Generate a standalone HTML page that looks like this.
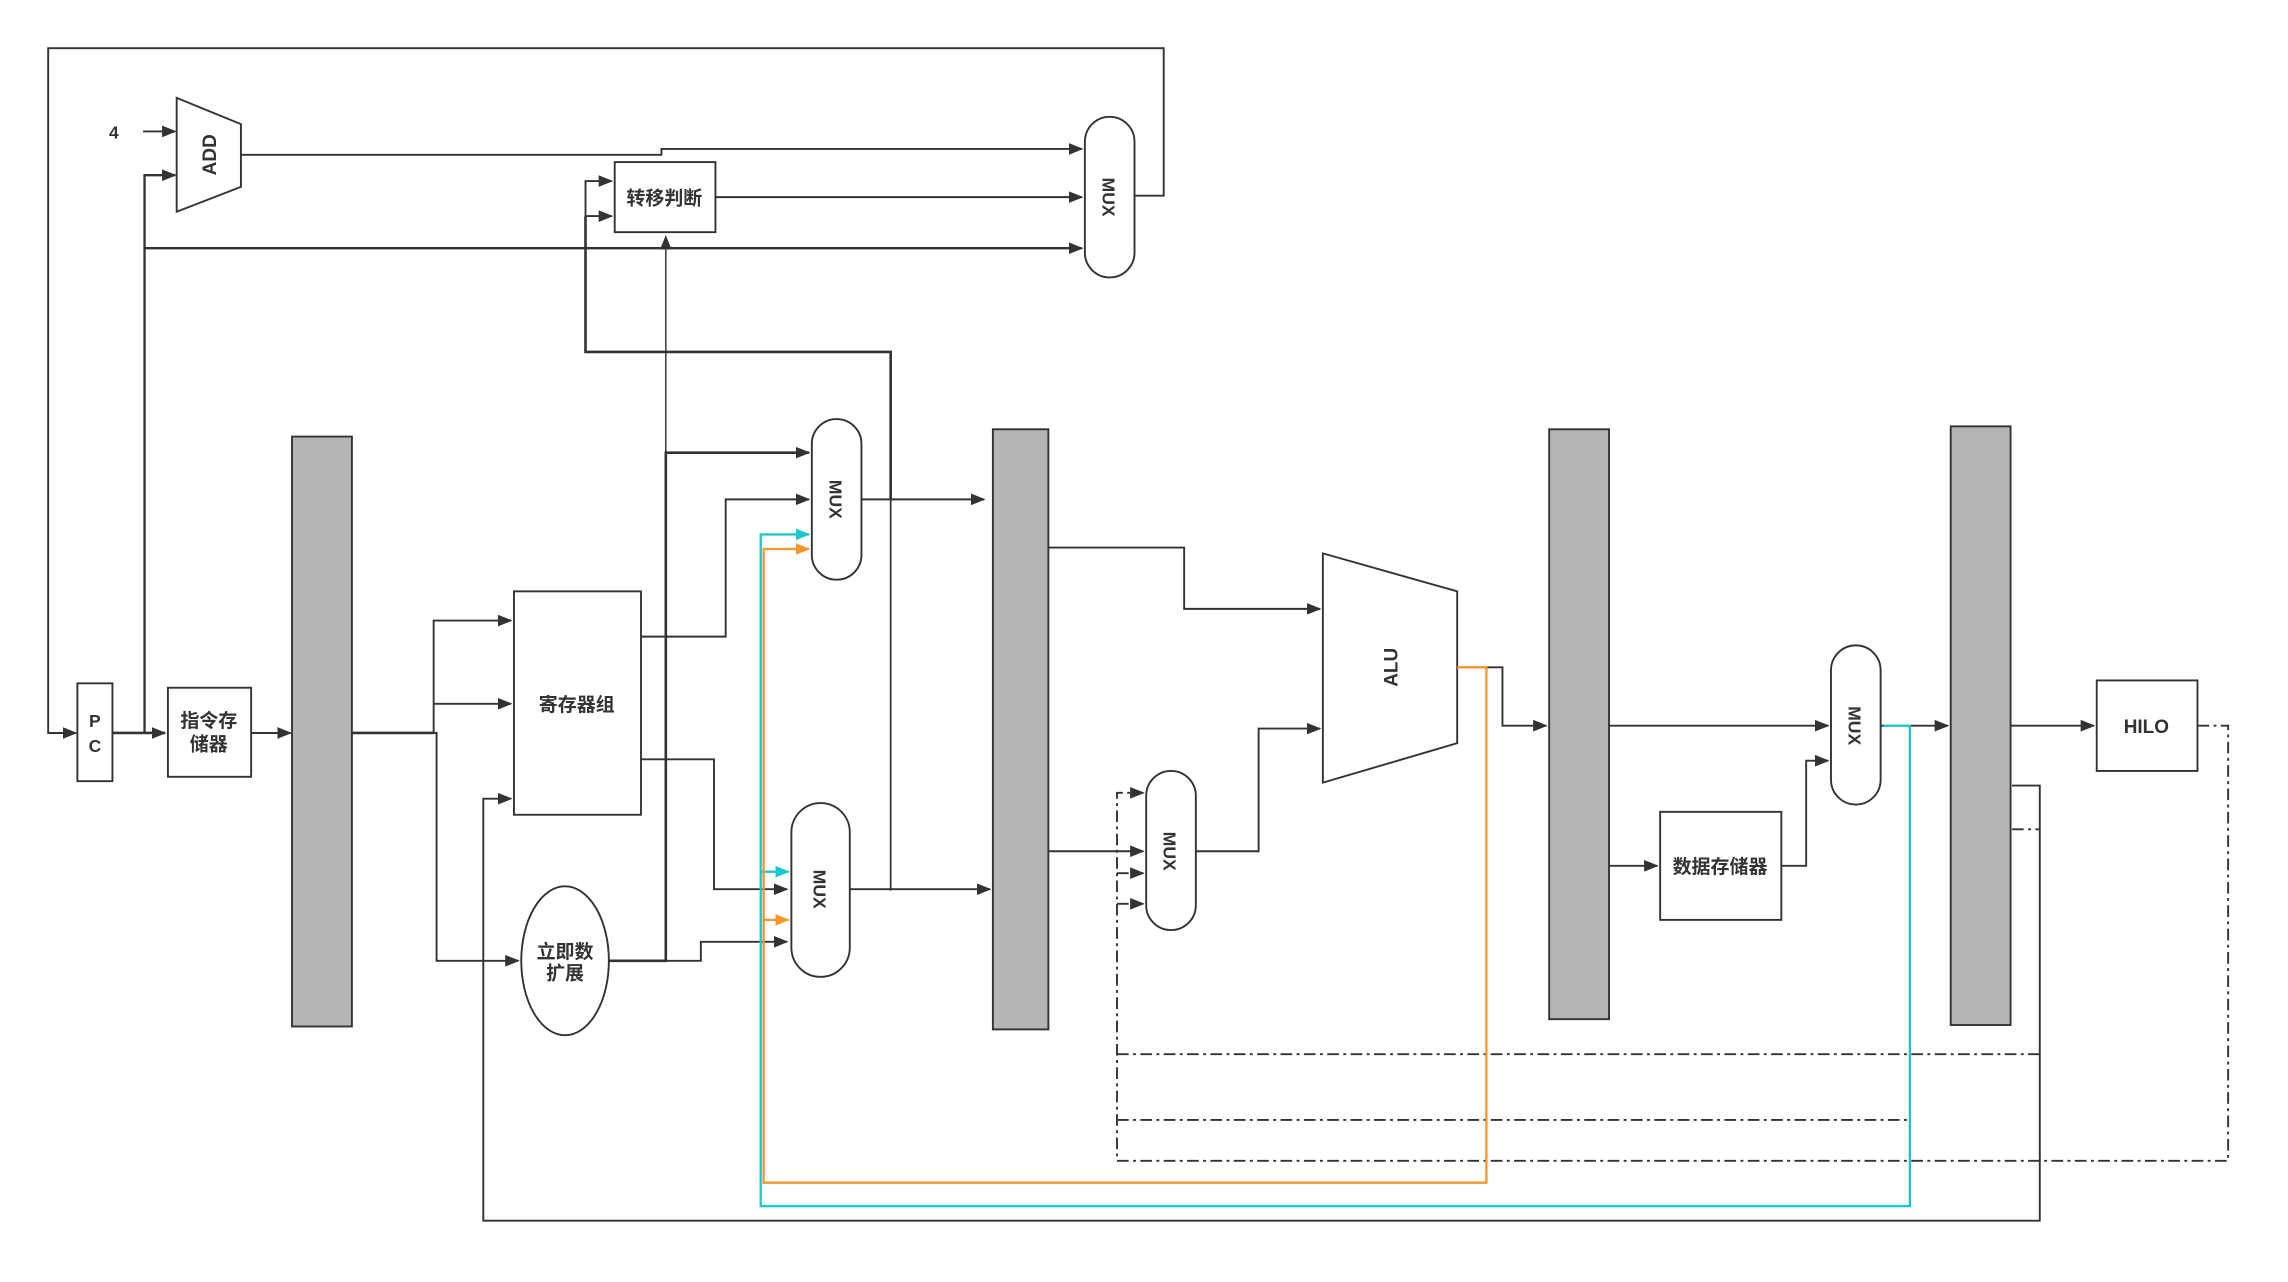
<!DOCTYPE html>
<html><head><meta charset="utf-8"><style>
html,body{margin:0;padding:0;background:#fff;}
svg{display:block;}
text{font-family:"Liberation Sans","Noto Sans CJK SC",sans-serif;font-weight:bold;fill:#333;}
</style></head><body>
<svg width="2288" height="1282" viewBox="0 0 1567 878" preserveAspectRatio="none" xmlns="http://www.w3.org/2000/svg">
<defs>
<marker id="a" markerWidth="10" markerHeight="8" refX="9" refY="4" orient="auto" markerUnits="userSpaceOnUse"><path d="M0,0 L10,4 L0,8 z" fill="#333"/></marker>
<marker id="c" markerWidth="10" markerHeight="8" refX="9" refY="4" orient="auto" markerUnits="userSpaceOnUse"><path d="M0,0 L10,4 L0,8 z" fill="#1cc8d0"/></marker>
<marker id="o" markerWidth="10" markerHeight="8" refX="9" refY="4" orient="auto" markerUnits="userSpaceOnUse"><path d="M0,0 L10,4 L0,8 z" fill="#f7962e"/></marker>
</defs>
<g fill="none" stroke="#333" stroke-width="1.3">
<polyline points="777,134 797,134 797,33 33,33 33,502 52,502" marker-end="url(#a)"/>
<line x1="98" y1="90" x2="120" y2="90" marker-end="url(#a)"/>
<polygon points="121,67 165,85 165,128 121,145" fill="#fff"/>
<polyline points="165,106 453,106 453,102 741,102" marker-end="url(#a)"/>
<rect x="743" y="80" width="34" height="110" rx="17" fill="#fff"/>
<rect x="421" y="111" width="69" height="48" fill="#fff"/>
<line x1="490" y1="135" x2="741" y2="135" marker-end="url(#a)"/>
<line x1="99" y1="170" x2="741" y2="170" stroke-width="1.6" marker-end="url(#a)"/>
<polyline points="99,502 99,120 120,120" stroke-width="1.6" marker-end="url(#a)"/>
<rect x="53" y="468" width="24" height="67" fill="#fff"/>
<line x1="77" y1="502" x2="113" y2="502" stroke-width="1.8" marker-end="url(#a)"/>
<rect x="115" y="471" width="57" height="61" fill="#fff"/>
<line x1="172" y1="502" x2="199" y2="502" marker-end="url(#a)"/>
<rect x="200" y="299" width="41" height="404" fill="#b5b5b5"/>
<polyline points="241,502 297,502" stroke-width="1.8"/>
<polyline points="297,502 297,425 350,425" marker-end="url(#a)"/>
<line x1="297" y1="482" x2="350" y2="482" marker-end="url(#a)"/>
<polyline points="297,502 299,502 299,658 355,658" marker-end="url(#a)"/>
<rect x="352" y="405" width="87" height="153" fill="#fff"/>
<ellipse cx="387" cy="658" rx="30" ry="51" fill="#fff"/>
<polyline points="1378,538 1397,538 1397,836 331,836 331,547 350,547" marker-end="url(#a)"/>
<polyline points="439,436 497,436 497,342 554,342" marker-end="url(#a)"/>
<rect x="556" y="287" width="34" height="110" rx="17" fill="#fff"/>
<line x1="590" y1="342" x2="674" y2="342" marker-end="url(#a)"/>
<polyline points="417,658 456,658 456,310 554,310" stroke-width="1.8" marker-end="url(#a)"/>
<line x1="456" y1="310" x2="456" y2="162" stroke-width="1" marker-end="url(#a)"/>
<polyline points="610,342 610,241 401,241 401,148" stroke-width="1.8"/>
<line x1="610" y1="342" x2="610" y2="610" stroke-width="1.2"/>
<polyline points="401,148 419,148" marker-end="url(#a)"/>
<polyline points="401,148 401,124 419,124" marker-end="url(#a)"/>
<polyline points="439,520 489,520 489,609 539,609" marker-end="url(#a)"/>
<rect x="542" y="550" width="40" height="119" rx="20" fill="#fff"/>
<line x1="582" y1="609" x2="678" y2="609" marker-end="url(#a)"/>
<polyline points="456,658 480,658 480,645 539,645" marker-end="url(#a)"/>
<rect x="680" y="294" width="38" height="411" fill="#b5b5b5"/>
<polyline points="718,375 811,375 811,417 904,417" marker-end="url(#a)"/>
<line x1="718" y1="583" x2="783" y2="583" marker-end="url(#a)"/>
<rect x="785" y="528" width="34" height="109" rx="17" fill="#fff"/>
<polyline points="819,583 862,583 862,499 904,499" marker-end="url(#a)"/>
<polygon points="906,379 998,405 998,509 906,536" fill="#fff"/>
<polyline points="998,457 1029,457 1029,497 1059,497" marker-end="url(#a)"/>
<rect x="1061" y="294" width="41" height="404" fill="#b5b5b5"/>
<line x1="1102" y1="497" x2="1252" y2="497" marker-end="url(#a)"/>
<rect x="1254" y="442" width="34" height="109" rx="17" fill="#fff"/>
<line x1="1102" y1="593" x2="1135" y2="593" marker-end="url(#a)"/>
<rect x="1137" y="556" width="83" height="74" fill="#fff"/>
<polyline points="1220,593 1237,593 1237,521 1252,521" marker-end="url(#a)"/>
<line x1="1288" y1="497" x2="1334" y2="497" marker-end="url(#a)"/>
<rect x="1336" y="292" width="41" height="410" fill="#b5b5b5"/>
<line x1="1377" y1="497" x2="1434" y2="497" marker-end="url(#a)"/>
<rect x="1436" y="466" width="69" height="62" fill="#fff"/>
<g stroke-dasharray="8,3,2,3">
<polyline points="1505,497 1526,497 1526,795 765,795 765,543 783,543" marker-end="url(#a)"/>
<line x1="765" y1="598" x2="783" y2="598" marker-end="url(#a)"/>
<line x1="765" y1="619" x2="783" y2="619" marker-end="url(#a)"/>
<line x1="765" y1="722" x2="1397" y2="722"/>
<line x1="765" y1="767" x2="1308" y2="767"/>
<line x1="1378" y1="568" x2="1397" y2="568"/>
</g>
</g>
<g fill="none" stroke-width="1.6">
<polyline points="1290,497 1308,497 1308,826 521,826 521,366 554,366" stroke="#1cc8d0" marker-end="url(#c)"/>
<line x1="521" y1="597" x2="540" y2="597" stroke="#1cc8d0" marker-end="url(#c)"/>
<polyline points="998,457 1018,457 1018,810 523,810 523,376 554,376" stroke="#f7962e" marker-end="url(#o)"/>
<line x1="523" y1="630" x2="540" y2="630" stroke="#f7962e" marker-end="url(#o)"/>
</g>
<text x="78" y="95" font-size="12" text-anchor="middle">4</text>
<text transform="translate(148,106) rotate(-90)" font-size="13" text-anchor="middle">ADD</text>
<text transform="translate(755,135) rotate(90)" font-size="12" text-anchor="middle">MUX</text>
<text x="455" y="140" font-size="13" text-anchor="middle">转移判断</text>
<text x="65" y="498" font-size="12" text-anchor="middle">P</text>
<text x="65" y="515" font-size="12" text-anchor="middle">C</text>
<text x="143" y="498" font-size="13" text-anchor="middle">指令存</text>
<text x="143" y="514" font-size="13" text-anchor="middle">储器</text>
<text x="395" y="487" font-size="13" text-anchor="middle">寄存器组</text>
<text x="387" y="656" font-size="13" text-anchor="middle">立即数</text>
<text x="387" y="671" font-size="13" text-anchor="middle">扩展</text>
<text transform="translate(568,342) rotate(90)" font-size="12" text-anchor="middle">MUX</text>
<text transform="translate(557,609) rotate(90)" font-size="12" text-anchor="middle">MUX</text>
<text transform="translate(797,583) rotate(90)" font-size="12" text-anchor="middle">MUX</text>
<text transform="translate(957,457) rotate(-90)" font-size="13" text-anchor="middle">ALU</text>
<text transform="translate(1266,497) rotate(90)" font-size="12" text-anchor="middle">MUX</text>
<text x="1178" y="598" font-size="13" text-anchor="middle">数据存储器</text>
<text x="1470" y="502" font-size="13" text-anchor="middle">HILO</text>
</svg>
</body></html>
